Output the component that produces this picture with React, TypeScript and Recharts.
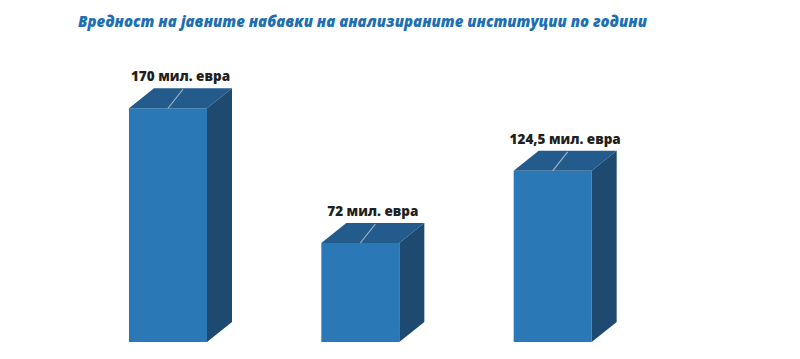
import React from 'react';
import { BarChart, Bar, XAxis, YAxis, LabelList } from 'recharts';

const years = ['2017', '2018', '2019'];
const values = [170, 72, 124.5];
const unit = 'мил. евра';
const title = 'Вредност на јавните набавки на анализираните институции по години';

const data = years.map((year, i) => ({ year, value: values[i] }));

const DX = 25;
const DY = 20;

const Box3D = (props: any) => {
  const { x, y, width, height } = props;
  if (height <= 0) return null;
  const r = x + width;
  const b = y + height;
  return (
    <g>
      <rect x={x} y={y} width={width} height={height} fill="#2a78b5" />
      <polygon
        points={`${x},${y} ${x + DX},${y - DY} ${r + DX},${y - DY} ${r},${y}`}
        fill="#225b8c"
      />
      <polygon
        points={`${r},${y} ${r + DX},${y - DY} ${r + DX},${b - DY} ${r},${b}`}
        fill="#1e4a72"
      />
      <line
        x1={x + width / 2}
        y1={y}
        x2={x + width / 2 + 15}
        y2={y - DY + 1}
        stroke="#9fb3c6"
        strokeWidth={1.2}
      />
    </g>
  );
};

const TopLabel = (props: any) => {
  const { x, y, width, value } = props;
  return (
    <text
      x={x + width / 2 + DX / 2}
      y={y - 27}
      textAnchor="middle"
      fontFamily="'Open Sans', sans-serif"
      fontWeight={800}
      fontSize={13.5}
      fill="#231f20"
    >
      {`${String(value).replace('.', ',')} ${unit}`}
    </text>
  );
};

export default function App() {
  return (
    <div style={{ position: 'relative', width: 800, height: 359, background: '#fff' }}>
      <style>{`body{margin:0}`}</style>
      <svg width={800} height={40} style={{ position: 'absolute', left: 0, top: 0 }}>
        <text
          x={78}
          y={27}
          textLength={569}
          lengthAdjust="spacingAndGlyphs"
          fontFamily="'Open Sans', sans-serif"
          fontWeight={800}
          fontStyle="italic"
          fontSize={15.5}
          fill="#1c6fb2"
        >
          {title}
        </text>
      </svg>
      <BarChart
        width={800}
        height={359}
        data={data}
        margin={{ top: 67, right: 151, bottom: 17, left: 72 }}
        barSize={78}
      >
        <XAxis dataKey="year" hide />
        <YAxis hide domain={[0, 200]} />
        <Bar dataKey="value" shape={<Box3D />} isAnimationActive={false}>
          <LabelList dataKey="value" content={<TopLabel />} />
        </Bar>
      </BarChart>
    </div>
  );
}
